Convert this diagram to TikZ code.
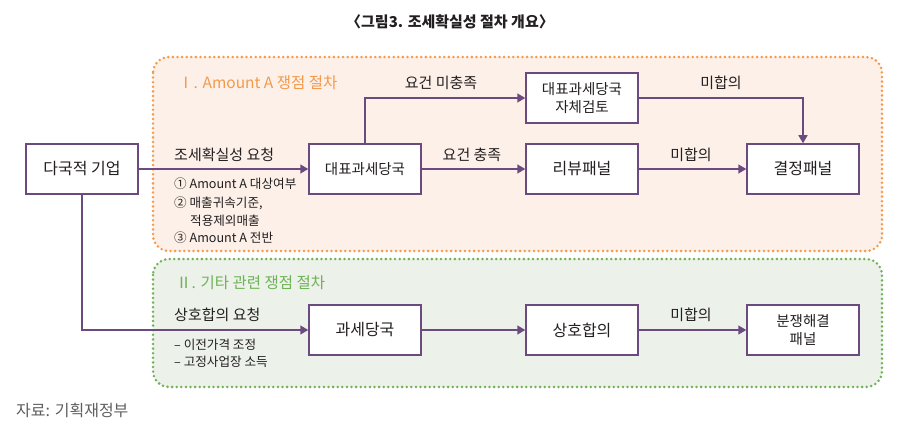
\documentclass[tikz,border=0pt]{standalone}
\usepackage{fontspec}
\setmainfont{Noto Sans CJK KR}
\usetikzlibrary{arrows.meta}
\definecolor{lnpurple}{HTML}{6B4A80}
\definecolor{orfill}{HTML}{FCF0E8}
\definecolor{ordot}{HTML}{F39A4B}
\definecolor{grfill}{HTML}{ECF1EA}
\definecolor{grdot}{HTML}{6FB257}
\definecolor{txt}{HTML}{231F20}
\definecolor{srcgray}{HTML}{5E5E5E}
\tikzset{
  box/.style={draw=lnpurple, line width=1.5pt, fill=white, minimum width=112pt, minimum height=50pt, inner sep=0pt, align=center, text=txt},
  conn/.style={draw=lnpurple, line width=1.5pt, -{Triangle[length=8pt,width=9pt]}},
  lbl/.style={font=\fontsize{15}{17}\selectfont, text=txt, inner sep=0pt},
  small/.style={font=\fontsize{12.6}{14}\selectfont, text=txt, inner sep=0pt, anchor=west},
  zone/.style={rounded corners=16pt, line width=2.8pt, line cap=round, dash pattern=on 0pt off 4.6pt},
}
\begin{document}
\begin{tikzpicture}[x=1pt,y=-1pt]
\useasboundingbox (0,0) rectangle (899,427);
% title
\node[font=\bfseries\fontsize{15}{17}\selectfont, text=txt] (title) at (450,22) {〈그림3. 조세확실성 절차 개요〉};
% zones
\path[zone, draw=ordot, fill=orfill] (153,57) rectangle (882,251);
\path[zone, draw=grdot, fill=grfill] (153,259) rectangle (882,387);
\node[lbl, anchor=west, text=ordot, font=\fontsize{15.5}{17}\selectfont] (t1) at (178,83) {Ⅰ. Amount A 쟁점 절차};
\node[lbl, anchor=west, text=grdot, font=\fontsize{15.5}{17}\selectfont] (t2) at (176,283) {Ⅱ. 기타 관련 쟁점 절차};
% boxes
\node[box, font=\fontsize{16}{18}\selectfont] (mnc) at (82,169) {다국적 기업};
\node[box, font=\fontsize{14.5}{16}\selectfont] (rep) at (365,169) {대표과세당국};
\node[box, font=\fontsize{14.5}{17.5}\selectfont] (self) at (582,98) {대표과세당국\\자체검토};
\node[box, font=\fontsize{16}{18}\selectfont] (rev) at (582,169) {리뷰패널};
\node[box, font=\fontsize{16}{18}\selectfont] (dec) at (803,169) {결정패널};
\node[box, font=\fontsize{16}{18}\selectfont] (tax) at (365,330) {과세당국};
\node[box, font=\fontsize{16}{18}\selectfont] (map) at (582,330) {상호합의};
\node[box, font=\fontsize{14.5}{17.5}\selectfont] (dr) at (803,330) {분쟁해결\\패널};
% connectors
\coordinate (c1) at (365,98);
\coordinate (c2) at (803,98);
\coordinate (c3) at (82,330);
\draw[conn] (mnc.east) -- (rep.west);
\draw[conn] (rep.north) -- (c1) -- (self.west);
\draw[conn] (rep.east) -- (rev.west);
\draw[conn] (self.east) -- (c2) -- (dec.north);
\draw[conn] (rev.east) -- (dec.west);
\draw[conn] (mnc.south) -- (c3) -- (tax.west);
\draw[conn] (tax.east) -- (map.west);
\draw[conn] (map.east) -- (dr.west);
% labels
\node[lbl, anchor=west] (l1) at (174,155) {조세확실성 요청};
\node[small] (l1a) at (174,184) {① Amount A 대상여부};
\node[small] (l1b) at (174,203) {② 매출귀속기준,};
\node[small] (l1c) at (190,221) {적용제외매출};
\node[small] (l1d) at (174,238) {③ Amount A 전반};
\node[lbl] (l2) at (441,83) {요건 미충족};
\node[lbl] (l3) at (472,155) {요건 충족};
\node[lbl] (l4) at (721,83) {미합의};
\node[lbl] (l5) at (691,155) {미합의};
\node[lbl, anchor=west] (l6) at (174,315) {상호합의 요청};
\node[small] (l6a) at (174,345) {– 이전가격 조정};
\node[small] (l6b) at (174,362) {– 고정사업장 소득};
\node[lbl] (l7) at (691,315) {미합의};
\node[lbl, anchor=west, text=srcgray, font=\fontsize{16}{18}\selectfont] (src) at (16,410) {자료: 기획재정부};
\end{tikzpicture}
\end{document}
